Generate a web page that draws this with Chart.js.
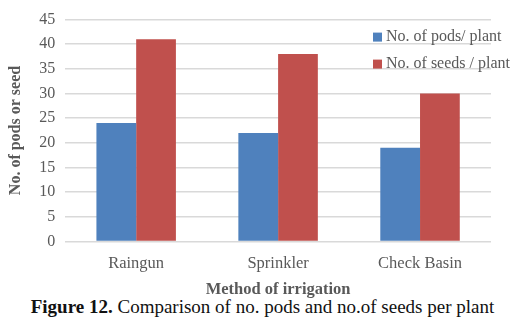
<!DOCTYPE html>
<html>
<head>
<meta charset="utf-8">
<script src="https://cdn.jsdelivr.net/npm/chart.js@4"></script>
<style>
  body { margin: 0; background: #fff; }
  #wrap { position: relative; width: 525px; height: 300px; }
  #caption { width: 525px; text-align: center; font-family: "Liberation Serif", serif; font-size: 19px; color: #111; line-height: 20px; margin-top: -3px; }
</style>
</head>
<body>
<div id="wrap"><canvas id="bar-chart"></canvas></div>
<div id="caption"><b>Figure 12.</b> Comparison of no. pods and no.of seeds per plant</div>
<script>
// data
const categories = ["Raingun", "Sprinkler", "Check Basin"];
const podsPerPlant = [24, 22, 19];
const seedsPerPlant = [41, 38, 30];
const seriesNames = ["No. of pods/ plant", "No. of seeds / plant"];
const yTicks = [0, 5, 10, 15, 20, 25, 30, 35, 40, 45];

const grey = "#595959";
const serif = "'Liberation Serif', 'Times New Roman', serif";

// legend sits inside the plot, top right
const insideLegend = {
  id: "insideLegend",
  afterDraw(chart) {
    let c = chart.ctx;
    let x = chart.chartArea.right - 118;
    let y = chart.chartArea.top + 17;
    c.save();
    c.font = "16px " + serif;
    c.textBaseline = "middle";
    chart.data.datasets.forEach((ds, i) => {
      c.fillStyle = ds.backgroundColor;
      c.fillRect(x, y + i * 27 - 4, 9, 9);
      c.fillStyle = grey;
      c.fillText(ds.label, x + 13, y + i * 27);
    });
    c.restore();
  }
};

let c = document.getElementById("bar-chart").getContext("2d");

var chart = new Chart(c, {
  type: "bar",
  data: {
    labels: categories,
    datasets: [{
      label: seriesNames[0],
      backgroundColor: "#4F81BD",
      data: podsPerPlant
    }, {
      label: seriesNames[1],
      backgroundColor: "#C0504D",
      data: seedsPerPlant
    }]
  },
  options: {
    responsive: true,
    maintainAspectRatio: false,
    animation: false,
    categoryPercentage: 0.56,
    barPercentage: 1,
    layout: { padding: { top: 12, right: 34, left: 6, bottom: 0 } },
    plugins: {
      legend: { display: false },
      tooltip: { enabled: false }
    },
    scales: {
      x: {
        grid: { display: false },
        border: { display: false },
        ticks: { color: grey, font: { family: serif, size: 16.5 }, padding: 4 },
        title: { display: true, text: "Method of irrigation", color: grey, font: { family: serif, size: 16.5, weight: "bold" }, padding: { top: 3, bottom: 0 } }
      },
      y: {
        min: 0,
        max: 45,
        afterBuildTicks(axis) { axis.ticks = yTicks.map(v => ({ value: v })); },
        grid: { color: "#d9d9d9", lineWidth: 1.5, drawTicks: false },
        border: { display: false },
        ticks: { color: grey, font: { family: serif, size: 16 }, padding: 10 },
        title: { display: true, text: "No. of pods or seed", color: grey, font: { family: serif, size: 16, weight: "bold" }, padding: { top: 0, bottom: 4 } }
      }
    }
  },
  plugins: [insideLegend]
});
</script>
</body>
</html>
